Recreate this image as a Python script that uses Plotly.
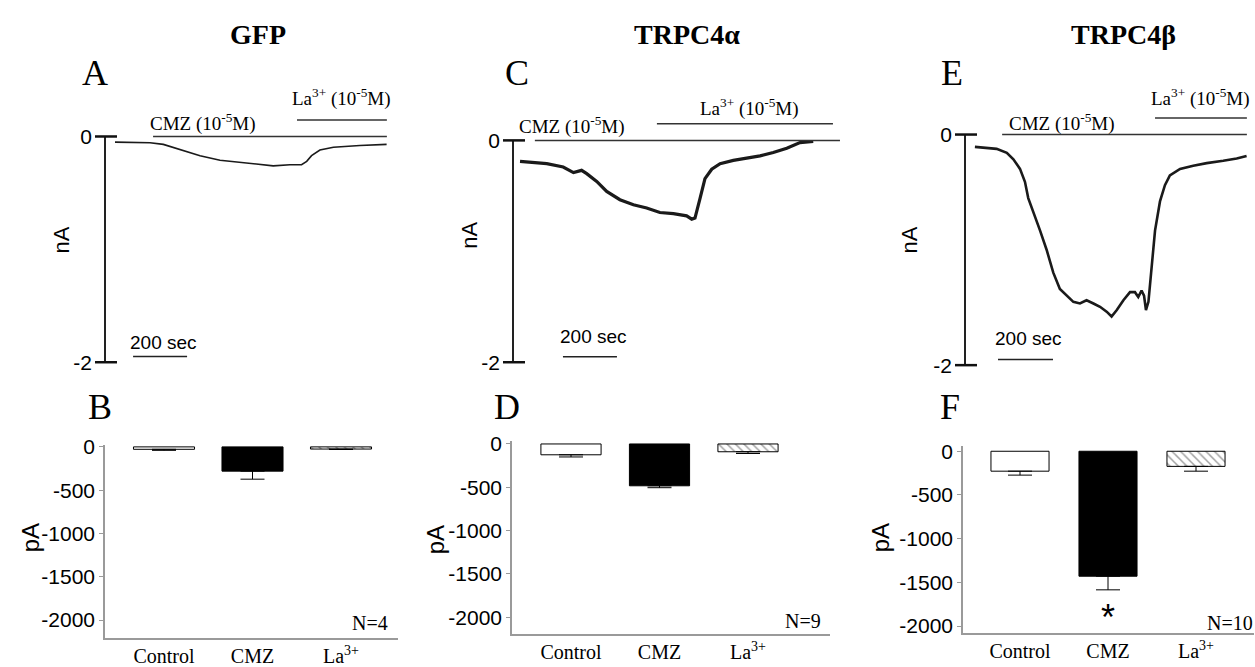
import plotly.graph_objects as go

W, H = 1255, 667

# ---------------- data ----------------
panel_titles = ["GFP", "TRPC4α", "TRPC4β"]
trace_letters = ["A", "C", "E"]
bar_letters = ["B", "D", "F"]

# current traces (time in s, current in nA)
gfp_t = [37, 167, 216, 278, 352, 426, 537, 623, 685, 728, 747, 765, 796, 846, 944, 1043]
gfp_i = [-0.05, -0.055, -0.07, -0.115, -0.17, -0.21, -0.24, -0.26, -0.25, -0.25,
         -0.22, -0.17, -0.12, -0.095, -0.08, -0.07]

trpc4a_t = [26, 125, 186, 224, 254, 273, 310, 347, 396, 446, 495, 544, 594, 643, 662,
            674, 693, 711, 736, 767, 816, 865, 915, 964, 1014, 1063, 1112]
trpc4a_i = [-0.19, -0.21, -0.24, -0.29, -0.27, -0.30, -0.37, -0.46, -0.535, -0.58, -0.61,
            -0.65, -0.66, -0.68, -0.71, -0.70, -0.52, -0.345, -0.26, -0.21, -0.18, -0.16,
            -0.14, -0.11, -0.07, -0.02, -0.01]

trpc4b_t = [36, 115, 152, 176, 200, 218, 230, 248, 273, 297, 321, 345, 370, 394, 418, 442,
            467, 491, 515, 533, 552, 576, 600, 618, 630, 642, 651, 658, 667, 679, 691, 709,
            727, 745, 782, 830, 879, 939, 988, 1024]
trpc4b_i = [-0.107, -0.124, -0.158, -0.214, -0.298, -0.41, -0.551, -0.664, -0.833, -1.001,
            -1.198, -1.339, -1.397, -1.451, -1.465, -1.437, -1.465, -1.494, -1.536, -1.578,
            -1.522, -1.437, -1.367, -1.367, -1.409, -1.353, -1.397, -1.522, -1.451, -1.170,
            -0.833, -0.580, -0.439, -0.354, -0.298, -0.270, -0.248, -0.228, -0.208, -0.186]

# drug application periods (s)
cmz_start = [178, 81, 135]
cmz_end = [1044, 1211, 1025]
la_start = [711, 533, 691]
la_end = [1044, 1185, 1025]
scale_sec = 200
scale_start = [104, 185, 120]

# summary bars (pA)
categories = ["Control", "CMZ", "La<sup>3+</sup>"]
gfp_mean = [-28, -280, -25]
gfp_sem = [12, 93, 5]
trpc4a_mean = [-125, -483, -90]
trpc4a_sem = [25, 22, 20]
trpc4b_mean = [-228, -1430, -173]
trpc4b_sem = [45, 156, 55]
n_cells = [4, 9, 10]
ytick_pa = [0, -500, -1000, -1500, -2000]
ytick_na = [0, -2]

# ---------------- helpers ----------------
def fx(px):
    return px / W

def fy(py):
    return 1 - py / H

SERIF = "Liberation Serif"
SANS = "Liberation Sans"

fig = go.Figure()
annotations = []
shapes = []

def ann(text, px, py, size, family, angle=0, xanchor="center"):
    annotations.append(dict(text=text, x=fx(px), y=fy(py), xref="paper", yref="paper",
                            xanchor=xanchor, yanchor="middle", showarrow=False,
                            textangle=angle, font=dict(size=size, family=family, color="black")))

# ---------------- top panels: current traces ----------------
traces_t = [gfp_t, trpc4a_t, trpc4b_t]
traces_i = [gfp_i, trpc4a_i, trpc4b_i]
# layout geometry (pixels): axis x, px per s, left, right, y of 0, px per nA
geo = [
    dict(ax=105, pps=0.27, left=93, right=392, y0=130, ppn=116),
    dict(ax=513, pps=0.27, left=501, right=842, y0=134, ppn=114),
    dict(ax=965, pps=0.275, left=953, right=1252, y0=128, ppn=118.5),
]
line_w = [1.6, 3.2, 2.6]
top_px, bot_px = 72, 374

for k in range(3):
    g = geo[k]
    xa = "x" if k == 0 else f"x{k+1}"
    ya = "y" if k == 0 else f"y{k+1}"
    xr = [(g["left"] - g["ax"]) / g["pps"], (g["right"] - g["ax"]) / g["pps"]]
    yr = [-(bot_px - g["y0"]) / g["ppn"], (g["y0"] - top_px) / g["ppn"]]
    la_level = 17 / g["ppn"]
    fig.add_trace(go.Scatter(x=traces_t[k], y=traces_i[k], mode="lines", xaxis=xa, yaxis=ya,
                             line=dict(color="#1a1a1a", width=line_w[k]), showlegend=False,
                             hoverinfo="skip"))
    fig.add_trace(go.Scatter(x=[cmz_start[k], cmz_end[k]], y=[0, 0], mode="lines",
                             xaxis=xa, yaxis=ya, line=dict(color="#333", width=1.5),
                             showlegend=False, hoverinfo="skip"))
    fig.add_trace(go.Scatter(x=[la_start[k], la_end[k]], y=[la_level, la_level], mode="lines",
                             xaxis=xa, yaxis=ya, line=dict(color="#333", width=1.5),
                             showlegend=False, hoverinfo="skip"))
    lay_x = "xaxis" if k == 0 else f"xaxis{k+1}"
    lay_y = "yaxis" if k == 0 else f"yaxis{k+1}"
    fig.layout[lay_x] = dict(domain=[fx(g["left"]), fx(g["right"])], range=xr, visible=False,
                             anchor=ya, fixedrange=True)
    fig.layout[lay_y] = dict(domain=[fy(bot_px), fy(top_px)], range=yr, anchor=xa,
                             showline=False, showgrid=False, zeroline=False, ticks="",
                             tickvals=ytick_na, ticktext=[str(v) for v in ytick_na],
                             tickfont=dict(family=SANS, size=21, color="black"),
                             fixedrange=True)
    # vertical axis line from 0 to -2
    shapes.append(dict(type="line", xref=xa, yref=ya, x0=0, x1=0, y0=0, y1=-2,
                       line=dict(color="#222", width=2)))
    for v in ytick_na:
        shapes.append(dict(type="line", xref=xa, yref=ya, xsizemode="pixel", xanchor=0,
                           x0=-10, x1=12, y0=v, y1=v, line=dict(color="#111", width=2.5)))
    # 200 s scale bar
    sb_y = -1.95
    shapes.append(dict(type="line", xref=xa, yref=ya, x0=scale_start[k],
                       x1=scale_start[k] + scale_sec, y0=sb_y, y1=sb_y,
                       line=dict(color="#222", width=1.5)))

# text for top panels
title_x = [258, 687, 1123]
for k in range(3):
    ann(f"<b>{panel_titles[k]}</b>", title_x[k], 25, 28, SERIF)
ann("A", 95, 65, 36, SERIF)
ann("C", 517, 65, 36, SERIF)
ann("E", 952, 65, 36, SERIF)
for px, py in [(62, 237), (470, 232), (910, 237)]:
    ann("nA", px, py, 22, SANS, angle=-90)
cmz_txt = "CMZ (10<sup>-5</sup>M)"
la_txt = "La<sup>3+</sup> (10<sup>-5</sup>M)"
for px, py in [(148, 116), (517, 119), (1007, 116)]:
    ann(cmz_txt, px, py, 19, SERIF, xanchor="left")
for px, py in [(290, 90), (698, 100), (1149, 90)]:
    ann(la_txt, px, py, 19, SERIF, xanchor="left")
for px, py in [(163, 342), (593, 336), (1028, 338)]:
    ann(f"{scale_sec} sec", px, py, 19, SANS)

# ---------------- bottom panels: bar charts ----------------
means = [gfp_mean, trpc4a_mean, trpc4b_mean]
sems = [gfp_sem, trpc4a_sem, trpc4b_sem]
bgeo = [
    dict(ax=105, c0=164, step=88.5, right=398, y0=449, ppp=0.089, xline=645, top=447, bw=0.69),
    dict(ax=512, c0=571, step=88.5, right=830, y0=446, ppp=0.089, xline=641, top=443, bw=0.68),
    dict(ax=963, c0=1020, step=88.0, right=1254, y0=453.5, ppp=0.0898, xline=640, top=448, bw=0.66),
]
for k in range(3):
    g = bgeo[k]
    idx = k + 4
    xa, ya = f"x{idx}", f"y{idx}"
    fig.add_trace(go.Bar(
        x=categories, y=means[k], xaxis=xa, yaxis=ya, width=[g["bw"]] * 3,
        marker=dict(color=["white", "black", "white"],
                    line=dict(color="black", width=1),
                    pattern=dict(shape=["", "", "\\"], fgcolor="black", bgcolor="white",
                                 size=6, solidity=0.25)),
        error_y=dict(type="data", symmetric=False, array=[0, 0, 0], arrayminus=sems[k],
                     color="black", thickness=1, width=12),
        showlegend=False, hoverinfo="skip"))
    xr = [(g["ax"] - g["c0"]) / g["step"], (g["right"] - g["c0"]) / g["step"]]
    yr = [-(g["xline"] - g["y0"]) / g["ppp"], (g["y0"] - g["top"]) / g["ppp"]]
    fig.layout[f"xaxis{idx}"] = dict(domain=[fx(g["ax"]), fx(g["right"])], range=xr,
                                     type="category", anchor=ya, showline=True,
                                     linecolor="#9a9a9a", linewidth=1.5, ticks="",
                                     showgrid=False, zeroline=False,
                                     tickfont=dict(family=SERIF, size=20, color="black"),
                                     fixedrange=True)
    fig.layout[f"yaxis{idx}"] = dict(domain=[fy(g["xline"]), fy(g["top"])], range=yr,
                                     anchor=xa, showline=True, linecolor="#9a9a9a",
                                     linewidth=1.5, ticks="outside", ticklen=4,
                                     tickcolor="#9a9a9a", tickvals=ytick_pa,
                                     ticktext=[str(v) for v in ytick_pa],
                                     showgrid=False, zeroline=False,
                                     tickfont=dict(family=SANS, size=21, color="black"),
                                     fixedrange=True)

ann("B", 100, 408, 36, SERIF)
ann("D", 507, 408, 36, SERIF)
ann("F", 950, 408, 36, SERIF)
for px, py in [(30, 543), (435, 545), (880, 543)]:
    ann("pA", px, py, 24, SANS, angle=-90)
for (px, py), n in zip([(370, 630), (803, 628), (1230, 630)], n_cells):
    ann(f"N={n}", px, py, 20, SERIF)
ann("*", 1108, 624, 36, SANS)

fig.update_layout(width=W, height=H, margin=dict(l=0, r=0, t=0, b=0),
                  paper_bgcolor="white", plot_bgcolor="white",
                  annotations=annotations, shapes=shapes)
fig.write_html("out.html", config={"displayModeBar": False},
               post_script="document.body.style.margin='0';document.body.style.overflow='hidden';")
